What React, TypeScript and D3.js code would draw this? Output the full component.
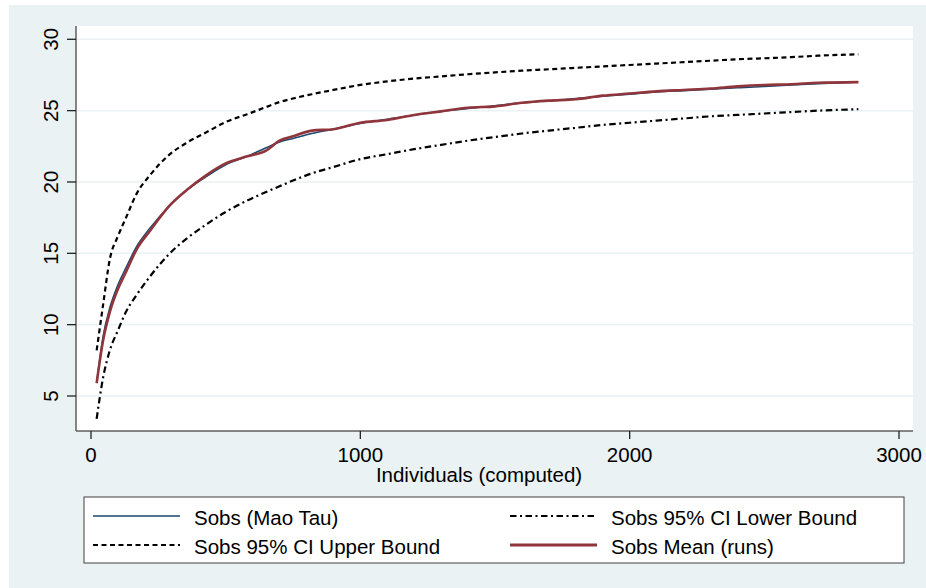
import React from "react";
import * as d3 from "d3";

// Sample sizes (individuals) at which the rarefaction curves are evaluated
const individuals = [21, 45, 70, 100, 130, 170, 220, 290, 360, 430, 500, 580, 650, 700, 750, 820, 900, 1000, 1100, 1200, 1300, 1400, 1500, 1600, 1700, 1800, 1900, 2000, 2100, 2200, 2300, 2400, 2500, 2600, 2700, 2849];

const sobsMaoTau = [5.9, 9.2, 11.2, 12.8, 14.0, 15.5, 16.8, 18.3, 19.5, 20.4, 21.2, 21.8, 22.4, 22.8, 23.05, 23.4, 23.7, 24.1, 24.4, 24.7, 24.95, 25.15, 25.35, 25.55, 25.7, 25.85, 26.0, 26.15, 26.3, 26.4, 26.5, 26.6, 26.7, 26.8, 26.88, 27.0];

const sobsMeanRuns = [5.9, 8.9, 10.9, 12.5, 13.7, 15.3, 16.6, 18.3, 19.5, 20.5, 21.3, 21.8, 22.2, 22.9, 23.2, 23.6, 23.7, 24.15, 24.35, 24.7, 24.95, 25.2, 25.3, 25.55, 25.7, 25.8, 26.05, 26.2, 26.35, 26.45, 26.55, 26.7, 26.8, 26.85, 26.95, 27.0];

const sobsUpper = [8.2, 11.4, 14.6, 16.2, 17.5, 19.2, 20.5, 21.9, 22.8, 23.5, 24.2, 24.75, 25.25, 25.6, 25.85, 26.15, 26.45, 26.8, 27.05, 27.25, 27.4, 27.55, 27.68, 27.8, 27.9, 28.0, 28.1, 28.2, 28.3, 28.4, 28.5, 28.6, 28.67, 28.75, 28.85, 28.95];

const sobsLower = [3.4, 6.3, 8.2, 9.6, 10.9, 12.1, 13.4, 14.95, 16.1, 17.05, 17.9, 18.7, 19.3, 19.7, 20.1, 20.6, 21.05, 21.6, 21.95, 22.3, 22.6, 22.9, 23.15, 23.4, 23.6, 23.8, 24.0, 24.15, 24.3, 24.45, 24.6, 24.7, 24.8, 24.9, 25.0, 25.1];

const xTicks = [0, 1000, 2000, 3000];
const yTicks = [5, 10, 15, 20, 25, 30];

const xTitle = "Individuals (computed)";
const legendLabels = ["Sobs (Mao Tau)", "Sobs 95% CI Lower Bound", "Sobs 95% CI Upper Bound", "Sobs Mean (runs)"];

const W = 926;
const H = 588;
const FONT = "'Liberation Sans', Arial, Helvetica, sans-serif";
const FS = 20.5;

const BG = "#eaf2f3";
const NAVY = "#1a476f";
const MAROON = "#90353b";

const plot = { left: 76, right: 913, top: 26, bottom: 431 };

export default function App() {
  const x = d3.scaleLinear().domain([0, 3000]).range([91, 899]);
  const y = d3.scaleLinear().domain([5, 30]).range([396, 39.3]);

  const pts = (vals: number[]) => individuals.map((n, i) => [n, vals[i]] as [number, number]);

  const smooth = d3
    .line<[number, number]>()
    .x((d) => x(d[0]))
    .y((d) => y(d[1]))
    .curve(d3.curveMonotoneX);

  const DASH = "5 3.5";
  const DASHDOT = "6.5 3.5 2 3.5";
  const BW = 2.2;

  const legendRows = [
    { col: 0, row: 0, label: legendLabels[0], stroke: NAVY, width: 1.5, dash: undefined as string | undefined },
    { col: 1, row: 0, label: legendLabels[1], stroke: "#000", width: BW, dash: DASHDOT },
    { col: 0, row: 1, label: legendLabels[2], stroke: "#000", width: BW, dash: DASH },
    { col: 1, row: 1, label: legendLabels[3], stroke: MAROON, width: 3, dash: undefined },
  ];
  const colX = [93, 510];
  const rowY = [516, 545];

  return (
    <svg
      width={W}
      height={H}
      viewBox={`0 0 ${W} ${H}`}
      style={{ position: "absolute", left: 0, top: 0, background: "#fff" }}
      fontFamily={FONT}
    >
      <rect x={9} y={5} width={W - 9} height={H - 5} fill={BG} />
      <rect x={plot.left} y={plot.top} width={plot.right - plot.left} height={plot.bottom - plot.top} fill="#fff" />

      {/* horizontal grid */}
      {yTicks.map((t) => (
        <line key={`g${t}`} x1={plot.left} x2={plot.right} y1={y(t)} y2={y(t)} stroke={BG} strokeWidth={1.5} />
      ))}

      {/* series */}
      <path d={smooth(pts(sobsMaoTau)) || ""} fill="none" stroke={NAVY} strokeWidth={1.5} />
      <path d={smooth(pts(sobsUpper)) || ""} fill="none" stroke="#000" strokeWidth={BW} strokeDasharray={DASH} />
      <path d={smooth(pts(sobsLower)) || ""} fill="none" stroke="#000" strokeWidth={BW} strokeDasharray={DASHDOT} />
      <path d={smooth(pts(sobsMeanRuns)) || ""} fill="none" stroke={MAROON} strokeWidth={2.6} strokeLinejoin="round" />

      {/* axes */}
      <line x1={plot.left} x2={plot.left} y1={plot.top} y2={plot.bottom} stroke="#5f5f5f" strokeWidth={1.5} />
      <line x1={plot.left} x2={plot.right} y1={plot.bottom} y2={plot.bottom} stroke="#5f5f5f" strokeWidth={1.5} />

      {yTicks.map((t) => (
        <g key={`y${t}`}>
          <line x1={plot.left - 9} x2={plot.left} y1={y(t)} y2={y(t)} stroke="#222" strokeWidth={1.3} />
          <text
            transform={`translate(58, ${y(t)}) rotate(-90)`}
            textAnchor="middle"
            fontSize={FS}
            fill="#000"
          >
            {t}
          </text>
        </g>
      ))}

      {xTicks.map((t) => (
        <g key={`x${t}`}>
          <line x1={x(t)} x2={x(t)} y1={plot.bottom} y2={plot.bottom + 8} stroke="#222" strokeWidth={1.3} />
          <text x={x(t)} y={462} textAnchor="middle" fontSize={FS} fill="#000">
            {t}
          </text>
        </g>
      ))}

      <text x={479} y={482} textAnchor="middle" fontSize={FS} fill="#000">
        {xTitle}
      </text>

      {/* legend */}
      <rect x={84} y={497} width={820} height={66} fill="#fff" stroke="#404040" strokeWidth={1} />
      {legendRows.map((r) => (
        <g key={r.label}>
          <line
            x1={colX[r.col]}
            x2={colX[r.col] + 87}
            y1={rowY[r.row]}
            y2={rowY[r.row]}
            stroke={r.stroke}
            strokeWidth={r.width}
            strokeDasharray={r.dash}
          />
          <text x={colX[r.col] + 101} y={rowY[r.row] + 8.5} fontSize={FS} fill="#000">
            {r.label}
          </text>
        </g>
      ))}
    </svg>
  );
}
